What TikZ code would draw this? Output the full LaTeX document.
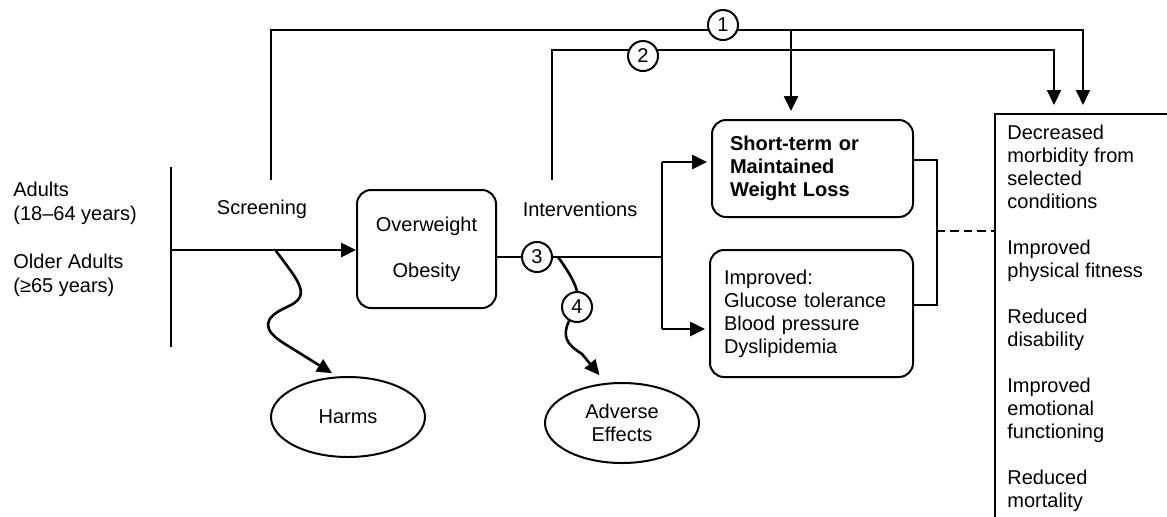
\documentclass[tikz,border=0pt]{standalone}
\usepackage{fontspec}
\setmainfont{Liberation Sans}
\usetikzlibrary{arrows.meta,shapes.geometric}
\tikzset{
  ln/.style={line width=1pt},
  thk/.style={line width=1.3pt},
  arr/.style={line width=1.3pt, -{Triangle[length=7.5pt,width=7pt]}},
  tip/.style={-{Triangle[length=7.5pt,width=7pt]}},
  rbox/.style={draw, line width=1pt, rounded corners=7pt, inner sep=0pt},
  oval/.style={draw, ellipse, line width=1pt, minimum width=77pt, minimum height=40pt, align=center, inner sep=0pt},
  num/.style={draw, circle, fill=white, line width=1pt, minimum size=15pt, inner sep=0pt},
  lbl/.style={inner sep=0pt},
  every node/.style={font=\fontsize{10}{11.5}\selectfont},
}
\begin{document}
\begin{tikzpicture}[x=0.5pt,y=-0.5pt]
\useasboundingbox (0,0) rectangle (1167,516);
\clip (0,0) rectangle (1167,516);

% population
\node[lbl, anchor=north west, align=left, font=\fontsize{10}{12}\selectfont] (pop) at (13,182)
  {Adults\\(18–64 years)\\[12pt]Older Adults\\(≥65 years)};
\coordinate (bartop) at (171,167);
\coordinate (barbot) at (171,347);
\coordinate (barmid) at (171,250);
\draw[ln] (bartop) -- (barbot);

\node[lbl] (scr) at (262,209) {Screening};
\node[lbl] (int) at (580,209) {Interventions};

% boxes
\node[rbox, minimum width=69.5pt, minimum height=59pt, align=center] (ow) at (426.5,249)
  {Overweight\\[11.5pt]Obesity};
\node[rbox, minimum width=100.5pt, minimum height=48.5pt, text width=82.5pt, align=left,
  font=\fontsize{10}{11.5}\selectfont\bfseries] (st) at (812.5,168.5)
  {Short-term or\\Maintained\\Weight Loss};
\node[rbox, minimum width=101.5pt, minimum height=63.5pt, text width=87.5pt, align=left] (imp) at (811.5,313.5)
  {Improved:\\Glucose tolerance\\Blood pressure\\Dyslipidemia};
\node[oval] (harms) at (348,417) {Harms};
\node[oval] (adv) at (622,423) {Adverse\\Effects};

% outcomes box (extends past the picture edge)
\node[draw, line width=1pt, anchor=north west, minimum width=100pt, minimum height=215pt, inner sep=0pt] (out) at (994,113) {};
\node[lbl, anchor=north west, align=left] (outtxt) at (1007,125)
  {Decreased\\morbidity from\\selected\\conditions\\[11.5pt]Improved\\physical fitness\\[11.5pt]Reduced\\disability\\[11.5pt]Improved\\emotional\\functioning\\[11.5pt]Reduced\\mortality};

% main arrow
\draw[thk, tip] (barmid) -- (ow.west |- barmid);

% key question 1
\coordinate (s1) at (271,180);
\coordinate (k1) at (271,30);
\coordinate (e1) at (1083,30);
\coordinate (b1) at (791,30);
\draw[ln, tip, shorten >=4pt] (s1) -- (k1) -- (e1) -- (out.north -| e1);
\draw[arr, shorten >=4pt] (b1) -- (st.north -| b1);

% key question 2
\coordinate (s2) at (552,180);
\coordinate (k2) at (552,50);
\coordinate (e2) at (1054,50);
\draw[ln, tip, shorten >=4pt] (s2) -- (k2) -- (e2) -- (out.north -| e2);

% key question 3
\coordinate (br) at (662,257);
\coordinate (brt) at (662,162);
\coordinate (brb) at (662,329);
\node[num] (c3) at (537,257) {3};
\draw[ln] (ow.east |- c3) -- (c3.west);
\draw[ln] (c3.east) -- (br);
\draw[thk] (brt) -- (brb);
\draw[arr, shorten >=2pt] (brt) -- (st.west |- brt);
\draw[arr, shorten >=2pt] (brb) -- (imp.west |- brb);

% numbered circles on top lines
\node[num] (c1) at (723,25) {1};
\node[num] (c2) at (643,56) {2};

% bracket and dashed link
\coordinate (bk1) at (937,160);
\coordinate (bk2) at (937,305);
\coordinate (bkm) at (937,231);
\draw[ln] (st.east |- bk1) -- (bk1) -- (bk2) -- (imp.east |- bk2);
\draw[ln, dash pattern=on 4.2pt off 2.5pt] (bkm) -- (out.west |- bkm);

% harms squiggle
\coordinate (hs) at (276,251);
\draw[thk, tip, shorten >=3pt] (hs) .. controls (300,283) and (312,296) .. (287,307)
  .. controls (262,318) and (262,330) .. (285,344) -- (harms.105);

% adverse effects
\node[num] (c4) at (577,307) {4};
\coordinate (as) at (558,257);
\draw[thk] (as) .. controls (566,268) and (574,280) .. (c4.north);
\draw[thk, tip, shorten >=5pt] (c4.240) .. controls (562,336) and (566,344) .. (582,354) -- (adv.112);
\end{tikzpicture}
\end{document}
